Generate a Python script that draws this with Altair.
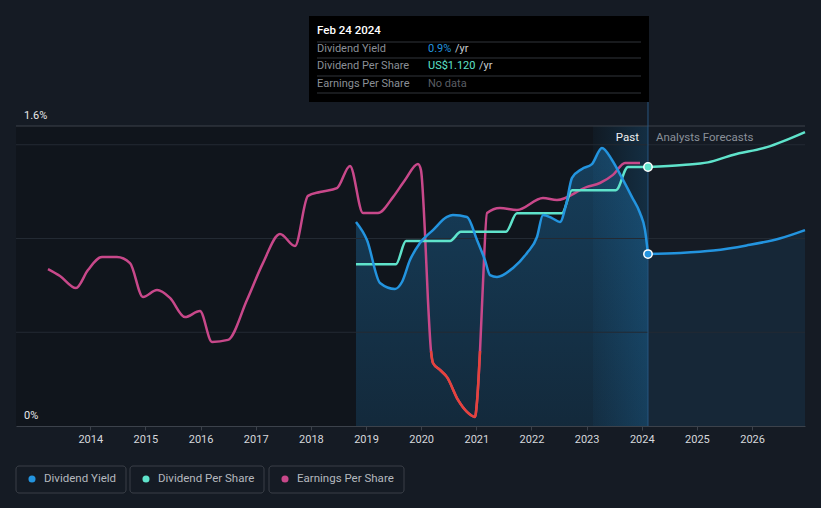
import altair as alt
import pandas as pd

# ---------------- data ----------------
# Dividend yield, % per year (past)
dy_years = [2018.818, 2019.017, 2019.253, 2019.525, 2019.652, 2019.797, 2019.978, 2020.214,
            2020.468, 2020.577, 2020.831, 2021.012, 2021.157, 2021.248, 2021.375, 2021.665,
            2021.919, 2022.100, 2022.209, 2022.372, 2022.517, 2022.626, 2022.735, 2022.916,
            2023.097, 2023.278, 2023.460, 2023.641, 2023.823, 2023.968, 2024.059, 2024.113]
dy_values = [1.088, 0.992, 0.763, 0.731, 0.768, 0.885, 0.976, 1.045,
             1.115, 1.125, 1.115, 0.992, 0.885, 0.805, 0.795, 0.843,
             0.923, 1.008, 1.125, 1.109, 1.088, 1.179, 1.323, 1.371,
             1.397, 1.483, 1.419, 1.323, 1.221, 1.136, 1.045, 0.917]
# Dividend yield forecast
dyf_years = [2024.113, 2024.70, 2025.30, 2025.90, 2026.50, 2026.96]
dyf_values = [0.917, 0.923, 0.936, 0.963, 1.000, 1.045]

# Dividend per share, US$ (past)
dps_years = [2018.818, 2019.543, 2019.724, 2020.522, 2020.721, 2021.537, 2021.737,
             2022.553, 2022.735, 2023.532, 2023.750, 2024.113]
dps_values = [0.70, 0.70, 0.80, 0.80, 0.84, 0.84, 0.92, 0.92, 1.02, 1.02, 1.12, 1.12]
# Dividend per share forecast
dpsf_years = [2024.113, 2024.74, 2025.20, 2025.65, 2026.27, 2026.96]
dpsf_values = [1.120, 1.129, 1.140, 1.172, 1.206, 1.271]

# Earnings per share (relative units)
eps_years = [2013.233, 2013.451, 2013.741, 2013.958, 2014.212, 2014.484, 2014.720, 2014.956,
             2015.210, 2015.445, 2015.717, 2015.989, 2016.207, 2016.497, 2016.841, 2017.131,
             2017.440, 2017.712, 2017.947, 2018.165, 2018.473, 2018.709, 2018.945, 2019.217,
             2019.489, 2019.707, 2019.942, 2019.996, 2020.069, 2020.123, 2020.178, 2020.214,
             2020.341, 2020.468, 2020.668, 2020.831, 2020.976, 2021.012, 2021.067, 2021.121,
             2021.194, 2021.429, 2021.737, 2022.209, 2022.463, 2023.007, 2023.242, 2023.478,
             2023.696, 2023.968]
eps_values = [2.73, 2.50, 2.10, 2.70, 3.13, 3.13, 2.93, 1.80,
              2.03, 1.77, 1.13, 1.33, 0.30, 0.37, 1.70, 2.93,
              3.90, 3.50, 5.17, 5.30, 5.43, 6.17, 4.60, 4.60,
              5.13, 5.70, 6.23, 6.03, 3.93, 1.70, 0.00, -0.40,
              -0.63, -0.87, -1.63, -2.03, -2.20, -1.70, 0.00, 2.27,
              4.60, 4.77, 4.70, 5.10, 5.03, 5.47, 5.60, 5.87,
              6.27, 6.27]

grid_values = [0.5, 1.0, 1.5]
top_value = 1.6
ylabel_values = [0, 1.6]
ylabel_texts = ["0%", "1.6%"]
year_ticks = list(range(2014, 2027))
now_year = 2024.113
past_band_start = 2023.115

tooltip_title = "Feb 24 2024"
tooltip_labels = ["Dividend Yield", "Dividend Per Share", "Earnings Per Share"]
tooltip_values = ["0.9%", "US$1.120", "No data"]
legend_labels = ["Dividend Yield", "Dividend Per Share", "Earnings Per Share"]

# ---------------- styles ----------------
BG = "#151b24"
BLUE = "#2394df"
TEAL = "#5fe3cb"
PINK = "#c8488a"
RED = "#e5433b"
FONT = "Roboto"
W, H = 789, 410

xs = alt.Scale(domain=[2012.653, 2026.96], nice=False, zero=False)
ys_yield = alt.Scale(domain=[0, 2.1867], nice=False, zero=False)
ys_dps = alt.Scale(domain=[0, 1.7730], nice=False, zero=False)
ys_eps = alt.Scale(domain=[-2.5, 11.1667], nice=False, zero=False)
xaxis = alt.Axis(values=year_ticks, format="d", grid=False, title=None,
                 domainColor="#3c424b", tickColor="#3c424b", tickSize=4,
                 labelColor="#d5d8dc", labelFont=FONT, labelFontSize=11,
                 labelPadding=3, labelFlush=False)

def X(field="year"):
    return alt.X(f"{field}:Q", scale=xs, axis=xaxis)

def Y(field, scale):
    return alt.Y(f"{field}:Q", scale=scale, axis=None)

one = pd.DataFrame({"k": [0]})

dy_df = pd.DataFrame({"year": dy_years, "v": dy_values})
dyf_df = pd.DataFrame({"year": dyf_years, "v": dyf_values})
dps_df = pd.DataFrame({"year": dps_years, "v": dps_values})
dpsf_df = pd.DataFrame({"year": dpsf_years, "v": dpsf_values})
eps_df = pd.DataFrame({"year": eps_years, "v": eps_values})
grid_df = pd.DataFrame({"v": grid_values})
ylab_df = pd.DataFrame({"v": ylabel_values, "t": ylabel_texts})
region_df = pd.DataFrame({"x0": [xs.domain[0]], "x1": [now_year], "b0": [past_band_start],
                          "y0": [0], "y1": [top_value]})
now_df = pd.DataFrame({"year": [now_year], "y0": [0], "y1": [1.739], "lab": [1.536]})

layers = []

# darker "past" region
layers.append(alt.Chart(region_df).mark_rect(color="#000000", opacity=0.22).encode(
    x=X("x0"), x2="x1", y=Y("y0", ys_yield), y2="y1"))

# area under past yield
layers.append(alt.Chart(dy_df).mark_area(
    interpolate="monotone",
    fill=alt.Gradient(gradient="linear", x1=0, x2=0, y1=0, y2=1,
                      stops=[alt.GradientStop(color="rgba(35,148,223,0.32)", offset=0),
                             alt.GradientStop(color="rgba(35,148,223,0.16)", offset=1)])
).encode(x=X(), y=Y("v", ys_yield)))

# area under forecast yield
layers.append(alt.Chart(dyf_df).mark_area(
    interpolate="monotone", color=BLUE, opacity=0.1
).encode(x=X(), y=Y("v", ys_yield)))

# past band (last 12 months)
layers.append(alt.Chart(region_df).mark_rect(
    fill=alt.Gradient(gradient="linear", x1=0, x2=1, y1=0, y2=0,
                      stops=[alt.GradientStop(color="rgba(35,148,223,0.04)", offset=0),
                             alt.GradientStop(color="rgba(35,148,223,0.20)", offset=1)])
).encode(x=X("b0"), x2="x1", y=Y("y0", ys_yield), y2="y1"))

# grid
layers.append(alt.Chart(grid_df).mark_rule(color="#232a33", strokeWidth=1).encode(
    y=Y("v", ys_yield), x=alt.value(0), x2=alt.value(W)))
layers.append(alt.Chart(pd.DataFrame({"v": [top_value]})).mark_rule(
    color="#3c424b", strokeWidth=1).encode(y=Y("v", ys_yield), x=alt.value(0), x2=alt.value(W)))

# "now" rule
layers.append(alt.Chart(now_df).mark_rule(color="#285680", strokeWidth=1).encode(
    x=X(), y=Y("y0", ys_yield), y2="y1"))

# y labels
layers.append(alt.Chart(ylab_df).mark_text(
    align="left", baseline="alphabetic", dy=-7, font=FONT, fontSize=11, color="#e6e8ea"
).encode(x=alt.value(8), y=Y("v", ys_yield), text="t:N"))

# Past / Analysts Forecasts
layers.append(alt.Chart(now_df).mark_text(
    text="Past", align="right", baseline="middle", dx=-9, font=FONT, fontSize=11.5,
    color="#f0f0f0").encode(x=X(), y=Y("lab", ys_yield)))
layers.append(alt.Chart(now_df).mark_text(
    text="Analysts Forecasts", align="left", baseline="middle", dx=8, font=FONT,
    fontSize=11.5, color="#8a9099").encode(x=X(), y=Y("lab", ys_yield)))

# lines
layers.append(alt.Chart(eps_df).mark_line(
    interpolate="monotone", color=PINK, strokeWidth=2.5).encode(x=X(), y=Y("v", ys_eps)))
layers.append(alt.Chart(eps_df).transform_filter(alt.datum.v <= 0).mark_line(
    interpolate="monotone", color=RED, strokeWidth=2.5).encode(x=X(), y=Y("v", ys_eps)))
layers.append(alt.Chart(dps_df).mark_line(
    interpolate="monotone", color=TEAL, strokeWidth=2.5).encode(x=X(), y=Y("v", ys_dps)))
layers.append(alt.Chart(dpsf_df).mark_line(
    interpolate="monotone", color=TEAL, strokeWidth=2.5).encode(x=X(), y=Y("v", ys_dps)))
layers.append(alt.Chart(dy_df).mark_line(
    interpolate="monotone", color=BLUE, strokeWidth=2.5).encode(x=X(), y=Y("v", ys_yield)))
layers.append(alt.Chart(dyf_df).mark_line(
    interpolate="monotone", color=BLUE, strokeWidth=2.5).encode(x=X(), y=Y("v", ys_yield)))

# end-point dots
layers.append(alt.Chart(dpsf_df.head(1)).mark_point(
    filled=True, shape="circle", size=70, fill=TEAL, stroke="white", strokeWidth=1.5, opacity=1
).encode(x=X(), y=Y("v", ys_dps)))
layers.append(alt.Chart(dyf_df.head(1)).mark_point(
    filled=True, shape="circle", size=70, fill=BLUE, stroke="white", strokeWidth=1.5, opacity=1
).encode(x=X(), y=Y("v", ys_yield)))

# ---------------- tooltip box ----------------
layers.append(alt.Chart(one).mark_rect(color="#000000").encode(
    x=alt.value(293), x2=alt.value(633), y=alt.value(0), y2=alt.value(86)))
for yy in [26, 42, 60, 77]:
    layers.append(alt.Chart(one).mark_rule(color="#30343a", strokeWidth=1).encode(
        x=alt.value(301), x2=alt.value(625), y=alt.value(yy)))
layers.append(alt.Chart(one).mark_text(
    text=tooltip_title, align="left", baseline="middle", font=FONT, fontSize=11.5,
    fontWeight=500, color="#ffffff").encode(x=alt.value(301), y=alt.value(15)))
row_y = [33, 50, 68]
for lab, yy in zip(tooltip_labels, row_y):
    layers.append(alt.Chart(one).mark_text(
        text=lab, align="left", baseline="middle", font=FONT, fontSize=11,
        color="#8a8f96").encode(x=alt.value(301), y=alt.value(yy)))
val_colors = [BLUE, TEAL, "#5a5e64"]
for val, col, yy in zip(tooltip_values, val_colors, row_y):
    layers.append(alt.Chart(one).mark_text(
        text=val, align="left", baseline="middle", font=FONT, fontSize=11,
        color=col).encode(x=alt.value(412), y=alt.value(yy)))
for xx, yy in [(439, 33), (463, 50)]:
    layers.append(alt.Chart(one).mark_text(
        text="/yr", align="left", baseline="middle", font=FONT, fontSize=11,
        color="#c8ccd0").encode(x=alt.value(xx), y=alt.value(yy)))

# ---------------- legend ----------------
legend_boxes = [(0, 110), (114, 248), (253, 388)]
legend_colors = [BLUE, TEAL, PINK]
for lab, col, (bx0, bx1) in zip(legend_labels, legend_colors, legend_boxes):
    layers.append(alt.Chart(one).mark_rect(
        fillOpacity=0, stroke="#3a3f47", strokeWidth=1, cornerRadius=3).encode(
        x=alt.value(bx0), x2=alt.value(bx1), y=alt.value(450), y2=alt.value(477)))
    layers.append(alt.Chart(one).mark_point(
        filled=True, shape="circle", size=50, color=col, opacity=1).encode(
        x=alt.value(bx0 + 16), y=alt.value(463)))
    layers.append(alt.Chart(one).mark_text(
        text=lab, align="left", baseline="middle", font=FONT, fontSize=11.5,
        color="#b4b8be").encode(x=alt.value(bx0 + 28), y=alt.value(463)))

chart = alt.layer(*layers).resolve_scale(y="independent").properties(
    width=W, height=H,
    padding={"left": 16, "top": 16, "right": 16, "bottom": 82},
    autosize=alt.AutoSizeParams(type="none"),
    background=BG,
).configure_view(stroke=None)

chart.save("out.html", embed_options={"renderer": "svg", "actions": False})
